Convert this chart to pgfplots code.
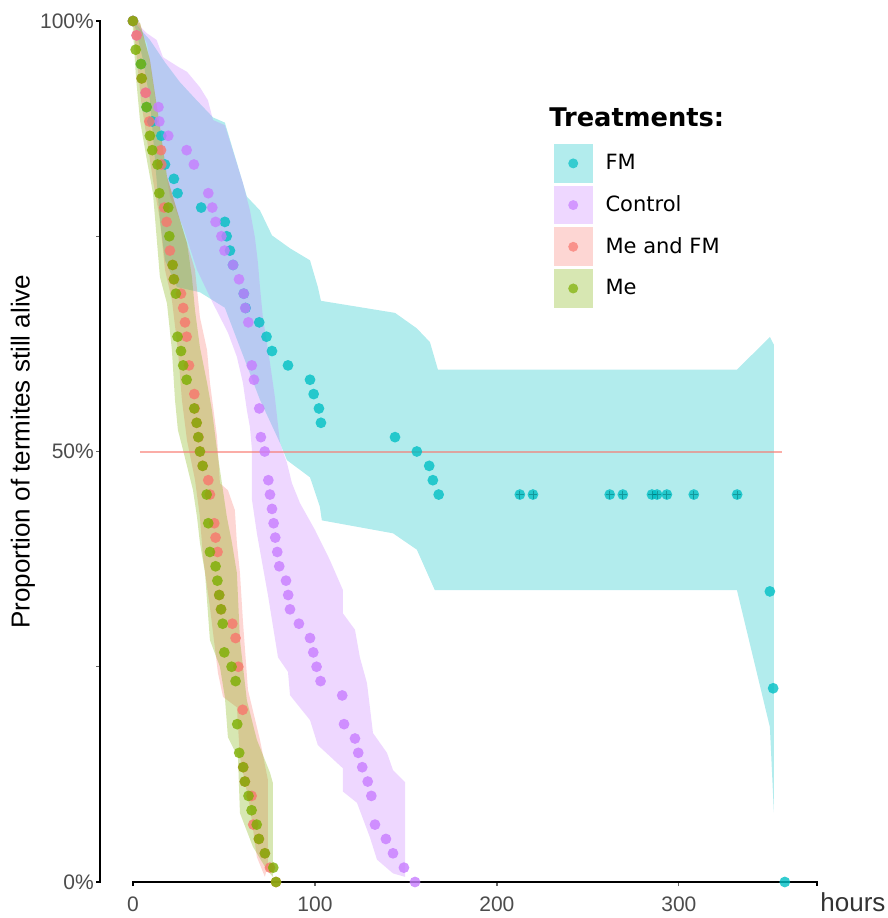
\documentclass[border=0pt]{standalone}
\usepackage{fontspec}
\setmainfont{Liberation Sans}
\newfontfamily\dejavu{DejaVu Sans}
\usepackage{pgfplots}
\pgfplotsset{compat=1.18}

\definecolor{cFM}{HTML}{00BFC4}
\definecolor{cCtrl}{HTML}{C77CFF}
\definecolor{cMeFM}{HTML}{F8766D}
\definecolor{cMe}{HTML}{7CAE00}

\pgfplotsset{
  ribbon/.style={fill=#1, fill opacity=0.3, draw=none, forget plot},
  pts/.style={only marks, mark=*, mark size=2.7pt, color=#1,
    mark options={draw opacity=0, fill opacity=0.8}, forget plot},
  key/.style={legend image code/.code={
    \path[fill=#1, fill opacity=0.3, draw=none] (0pt,-9.675pt) rectangle (19.35pt,9.675pt);
    \path[fill=#1, fill opacity=0.7, draw=none] (9.675pt,0pt) circle (2.5pt);}},
}

\begin{document}
\begin{tikzpicture}
\begin{axis}[
  at={(0,0)}, anchor=south west,
  scale only axis, width=358.5pt, height=430.5pt,
  xmin=-18, xmax=376, ymin=0, ymax=1,
  axis lines=left, axis line style={draw=none},
  xtick={0,100,200,300},
  ytick={0,0.25,0.5,0.75,1}, yticklabels={0\%,,50\%,,100\%},
  tick align=outside, major tick length=2pt,
  tick style={black!60, line width=0.6pt},
  tick label style={font=\fontsize{10.5}{12}\selectfont, text=black!70},
  yticklabel style={inner xsep=1pt},
  xticklabel style={yshift=-2pt},
  /pgf/number format/assume math mode=true,
  xlabel={hours},
  xlabel style={at={(axis description cs:1.0039,-0.0348)}, anchor=base west,
    inner sep=0pt, font=\fontsize{13}{15}\selectfont, text=black!80},
  ylabel={Proportion of termites still alive},
  ylabel style={at={(axis description cs:-0.1077,0.5)}, anchor=center,
    font=\fontsize{13}{15}\selectfont},
  clip=false,
  legend style={at={(axis cs:231.3,0.8571)}, anchor=north west, draw=none,
    fill=none, inner sep=0pt, outer sep=0pt, row sep=1.5pt, column sep=6.5pt,
    font=\dejavu\fontsize{10.5}{12}\selectfont, nodes={inner sep=0pt}},
  legend cell align=left,
]
% confidence ribbons
\addplot[ribbon=cFM] coordinates {
 (0,1) (9.34,0.978) (17.6,0.952) (25.8,0.929) (34.1,0.910) (44.0,0.888)
 (50.5,0.882) (60.4,0.812) (62.6,0.796) (69.8,0.780) (76.4,0.751) (86.3,0.736)
 (97.3,0.722) (101.6,0.691) (103.3,0.675) (144.0,0.661) (156.0,0.643)
 (163.2,0.627) (167.6,0.595) (331.9,0.595) (350.0,0.633) (352.2,0.624)
 (352.2,0.081) (350.0,0.180) (331.9,0.339) (165.9,0.339) (156.0,0.386)
 (142.9,0.405) (103.8,0.420) (102.7,0.436) (97.3,0.470) (84.6,0.490)
 (80.8,0.510) (69.8,0.560) (50.5,0.667) (36.8,0.685) (24.2,0.691)
 (17.6,0.722) (14.8,0.769) (12.1,0.839) (9.34,0.908) (5.5,0.955) (1.6,0.990)
};
\addplot[ribbon=cCtrl] coordinates {
 (1.1,1.0) (7.5,0.986) (13.0,0.978) (16.5,0.958) (24.7,0.947) (29.7,0.941)
 (36.8,0.923) (41.2,0.908) (44.0,0.885) (50.5,0.879) (60.4,0.812) (64.3,0.780)
 (67.0,0.749) (68.7,0.719) (69.8,0.691) (71.4,0.656) (75.3,0.603) (78.0,0.563)
 (80.8,0.510) (84.6,0.487) (87.4,0.463) (91.8,0.440) (100.0,0.409)
 (108.2,0.374) (115.4,0.339) (115.4,0.312) (122.0,0.293) (124.7,0.261)
 (128.6,0.231) (130.2,0.203) (131.9,0.173) (139.6,0.150) (142.9,0.130)
 (149.5,0.116) (149.5,0.006) (142.9,0.010) (134.1,0.026) (130.2,0.052)
 (123.1,0.092) (115.4,0.105) (115.4,0.132) (101.6,0.159) (97.3,0.188)
 (86.3,0.217) (85.2,0.244) (79.7,0.261) (74.2,0.333) (71.4,0.366)
 (68.1,0.405) (65.4,0.444) (65.4,0.502) (64.3,0.528) (62.6,0.548)
 (60.4,0.580) (57.1,0.610) (52.2,0.638) (44.0,0.672) (35.2,0.711)
 (27.5,0.761) (20.3,0.796) (13.2,0.897) (7.7,0.974) (2.2,0.995)
};
\addplot[ribbon=cMeFM] coordinates {
 (0,1) (0.55,0.990) (2.2,0.955) (4.4,0.908) (7.7,0.862) (11.0,0.815)
 (14.8,0.769) (17.6,0.711) (21.4,0.676) (24.7,0.618) (26.9,0.560) (29.7,0.513)
 (34.1,0.467) (36.8,0.424) (38.5,0.377) (42.3,0.319) (46.7,0.243) (49.5,0.215)
 (57.1,0.203) (58.8,0.145) (64.3,0.087) (68.1,0.029) (72.5,0.006)
 (74.2,0.020) (74.2,0.118) (69.8,0.165) (63.2,0.223) (60.4,0.304) (58.8,0.359)
 (57.1,0.394) (56.0,0.432) (52.2,0.455) (47.8,0.463) (46.2,0.517) (42.3,0.580)
 (40.7,0.618) (36.8,0.656) (34.1,0.711) (29.7,0.742) (24.2,0.780) (18.7,0.819)
 (14.8,0.877) (9.3,0.955) (3.85,0.998)
};
\addplot[ribbon=cMe] coordinates {
 (0,1) (0,0.9895) (1.65,0.935) (3.85,0.885) (7.7,0.838) (11.0,0.800)
 (14.8,0.703) (18.7,0.672) (21.4,0.618) (23.1,0.560) (24.7,0.525) (27.5,0.502)
 (33.0,0.455) (35.2,0.424) (36.8,0.394) (39.6,0.359) (42.3,0.281) (47.8,0.250)
 (50.5,0.215) (52.2,0.168) (57.7,0.145) (58.8,0.080) (65.9,0.041) (73.6,0.014)
 (76.9,0.006) (76.9,0.010) (76.9,0.115) (75.3,0.127) (68.1,0.165) (62.6,0.211)
 (58.8,0.281) (57.1,0.359) (54.4,0.394) (51.6,0.424) (48.9,0.463) (46.2,0.502)
 (43.4,0.548) (40.7,0.580) (36.8,0.621) (34.1,0.664) (32.4,0.703) (29.7,0.742)
 (24.2,0.780) (18.7,0.819) (14.8,0.877) (9.3,0.955) (3.85,0.998)
};
% median line
\addplot[cMeFM, opacity=0.6, line width=1pt, forget plot]
  coordinates {(3.8,0.5) (356.6,0.5)};
% survival points
\addplot[pts=cFM] coordinates {
 (0,1) (4.4,0.95) (7.5,0.9) (10.6,0.88333) (15.6,0.86667) (17.6,0.83333)
 (22.5,0.81667) (24.5,0.8) (37.5,0.78333) (50.5,0.76667) (51.5,0.75)
 (53.3,0.73333) (55,0.71667) (60.9,0.68333) (61.9,0.66667) (69.4,0.65)
 (73.4,0.63333) (76.4,0.61667) (85.2,0.6) (97.3,0.58333) (99.3,0.56667)
 (102.2,0.55) (103.3,0.53333) (144,0.51667) (156,0.5) (162.8,0.48333)
 (164.8,0.46667) (168,0.45) (212.6,0.45) (219.8,0.45) (262,0.45) (269.2,0.45)
 (285.2,0.45) (288,0.45) (293.4,0.45) (308.2,0.45) (332,0.45) (350,0.3375)
 (351.8,0.225) (358.2,0)
};
\addplot[only marks, mark=+, mark size=2pt, color=cFM!55!black, opacity=0.5,
  line width=0.4pt, forget plot] coordinates {
 (212.6,0.45) (219.8,0.45) (262,0.45) (269.2,0.45) (285.2,0.45) (288,0.45)
 (293.4,0.45) (308.2,0.45) (332,0.45)
};
\addplot[pts=cCtrl] coordinates {
 (0,1) (2,0.98333) (7,0.91667) (14,0.9) (14.5,0.88333) (19.4,0.86667)
 (29.5,0.85) (33.5,0.83333) (41.4,0.8) (43.6,0.78333) (45.4,0.76667)
 (48.6,0.75) (50.3,0.73333) (55,0.71667) (58.3,0.7) (60.9,0.68333)
 (61.7,0.66667) (63.4,0.65) (65.3,0.6) (66.5,0.58333) (69.4,0.55)
 (70.3,0.51667) (72.4,0.5) (74.4,0.46667) (75.3,0.45) (76.4,0.43333)
 (77.3,0.41667) (78.2,0.4) (79.3,0.38333) (80.4,0.36667) (84.1,0.35)
 (85.3,0.33333) (86.3,0.31667) (91.2,0.3) (97.3,0.28333) (99.1,0.26667)
 (100.9,0.25) (103.1,0.23333) (115,0.21667) (116,0.18333) (122,0.16667)
 (123.8,0.15) (126,0.13333) (129,0.11667) (131,0.1) (133,0.06667) (139,0.05)
 (142.9,0.03333) (148.9,0.01667) (155,0)
};
\addplot[pts=cMeFM] coordinates {
 (0,1) (2,0.98333) (4.8,0.93333) (7,0.91667) (9,0.88333) (15.4,0.85)
 (15.6,0.83333) (17.2,0.78333) (18.5,0.76667) (20.3,0.73333) (21.8,0.71667)
 (22.5,0.7) (26.4,0.68333) (27.6,0.66667) (28.6,0.65) (29.5,0.63333)
 (30.8,0.6) (33.7,0.56667) (33.9,0.55) (35,0.53333) (36,0.51667) (36.8,0.5)
 (38.3,0.48333) (41.4,0.46667) (42.3,0.45) (44.7,0.41667) (45.4,0.4)
 (46.5,0.38333) (47.4,0.33333) (48.4,0.31667) (54.6,0.3) (56.4,0.28333)
 (57.9,0.25) (60.3,0.2) (60.6,0.13333) (61.5,0.11667) (65.2,0.1)
 (66.1,0.06667) (69.2,0.05) (72.5,0.03333) (75.3,0.01667) (78.6,0)
};
\addplot[pts=cMe] coordinates {
 (0,1) (1.5,0.96667) (4.4,0.95) (4.8,0.93333) (7.5,0.9) (9.3,0.86667)
 (10.6,0.85) (13.5,0.83333) (14.5,0.8) (19.4,0.78333) (20,0.75) (21.8,0.71667)
 (22.5,0.7) (23.6,0.68333) (24.5,0.63333) (26.4,0.61667) (27.6,0.6)
 (29.5,0.58333) (33.7,0.55) (35,0.53333) (35.9,0.51667) (36.8,0.5)
 (38.3,0.48333) (40.5,0.45) (41.4,0.41667) (42.3,0.38333) (45.4,0.36667)
 (46.4,0.35) (47.4,0.33333) (48.4,0.31667) (49.3,0.3) (50.2,0.26667)
 (54.2,0.25) (56.4,0.23333) (57.3,0.18333) (58.4,0.15) (60.6,0.13333)
 (61.5,0.11667) (63.5,0.1) (65.2,0.08333) (68,0.06667) (69.2,0.05)
 (72.5,0.03333) (77.1,0.01667) (78.6,0)
};
% legend
\addlegendimage{key=cFM}\addlegendentry{FM}
\addlegendimage{key=cCtrl}\addlegendentry{Control}
\addlegendimage{key=cMeFM}\addlegendentry{Me and FM}
\addlegendimage{key=cMe}\addlegendentry{Me}
\node[anchor=base west, inner sep=0pt,
  font=\dejavu\bfseries\fontsize{12.85}{15}\selectfont]
  at (axis cs:228.6,0.877) {Treatments:};
% capped axis lines
\draw[black, line width=1pt] ([yshift=-2pt]axis cs:0,0) -- (axis cs:0,0)
  -- (axis cs:376,0) -- ([yshift=-2pt]axis cs:376,0);
\draw[black, line width=1pt] ([xshift=-2pt]axis cs:-18,0) -- (axis cs:-18,0)
  -- (axis cs:-18,1) -- ([xshift=-2pt]axis cs:-18,1);
\end{axis}
\pgfresetboundingbox
\path (-50.1pt,-18pt) rectangle (393.9pt,441pt);
\end{tikzpicture}
\end{document}
